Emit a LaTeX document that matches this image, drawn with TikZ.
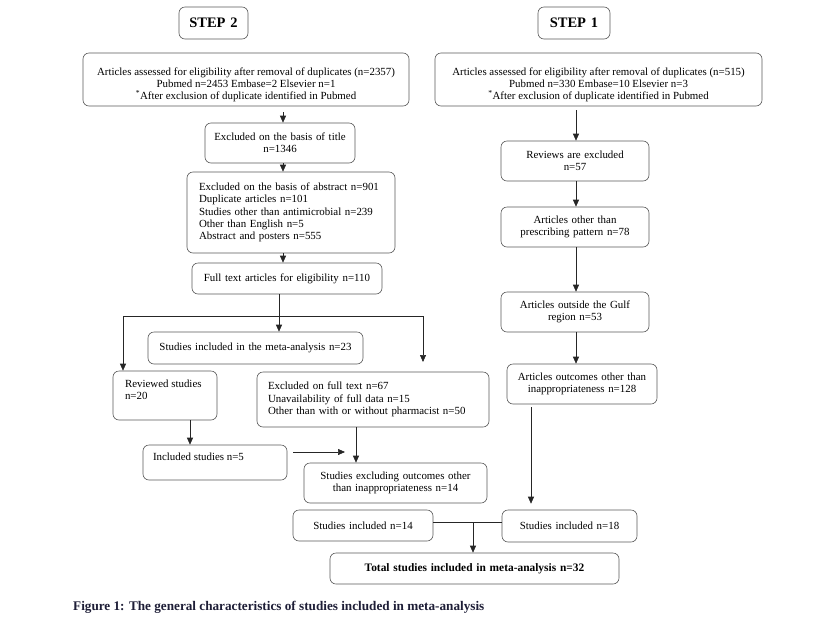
\documentclass[tikz,border=0pt]{standalone}
\usepackage{fontspec}
\setmainfont{Liberation Serif}
\usetikzlibrary{arrows.meta}
\newcommand{\fs}{\fontsize{10.9}{12.3}\selectfont}
\newcommand{\stepfont}{\fontsize{14.5}{16}\selectfont\bfseries}
\newcommand{\capfont}{\fontsize{13.2}{15}\selectfont\bfseries}
\definecolor{capc}{RGB}{30,30,55}
\begin{document}
\begin{tikzpicture}[x=1pt,y=-1pt,
  bx/.style={draw=black!65, line width=0.6pt, rounded corners=6pt, inner sep=0pt, font=\fs, align=center},
  lbx/.style={bx, align=left},
  arr/.style={-{Triangle[length=7pt,width=6pt]}, line width=0.6pt, draw=black!85},
  ln/.style={line width=0.6pt, draw=black!85}]
\path[fill=white] (0,0) rectangle (817,619);
% headers
\node[bx, text width=69pt, minimum height=32pt, font=\stepfont] (step2) at (213.5,23) {STEP 2};
\node[bx, text width=72pt, minimum height=32pt, font=\stepfont] (step1) at (574,23) {STEP 1};
% top boxes
\node[bx] (a2) at (246,79.5) {\parbox[c][53pt][t]{326pt}{\centering\rule{0pt}{22pt}Articles assessed for eligibility after removal of duplicates (n=2357)\\ Pubmed n=2453 Embase=2 Elsevier n=1\\ \textsuperscript{*}After exclusion of duplicate identified in Pubmed}};
\node[bx] (a1) at (598.5,79.5) {\parbox[c][53pt][t]{327pt}{\centering\rule{0pt}{22pt}Articles assessed for eligibility after removal of duplicates (n=515)\\ Pubmed n=330 Embase=10 Elsevier n=3\\ \textsuperscript{*}After exclusion of duplicate identified in Pubmed}};
% left column
\node[bx, text width=150pt, minimum height=40pt] (title) at (280,143) {Excluded on the basis of title\\ n=1346};
\node[lbx, text width=184pt, inner xsep=12pt, minimum height=81pt] (abstract) at (291,212.5) {Excluded on the basis of abstract n=901\\ Duplicate articles n=101\\ Studies other than antimicrobial n=239\\ Other than English n=5\\ Abstract and posters n=555};
\node[bx, text width=190pt, minimum height=31pt] (full) at (287,278.5) {Full text articles for eligibility n=110};
\node[bx, text width=215pt, minimum height=32pt] (meta) at (255.5,348) {Studies included in the meta-analysis n=23};
\node[lbx, inner xsep=12pt] (reviewed) at (165,395.5) {\parbox[c][49pt][t]{80pt}{\rule{0pt}{16pt}Reviewed studies\\ n=20}};
\node[lbx, text width=210pt, inner xsep=11pt, minimum height=55pt] (exclft) at (373,399.5) {Excluded on full text n=67\\ Unavailability of full data n=15\\ Other than with or without pharmacist n=50};
\node[lbx, inner xsep=10pt] (incl5) at (215,462.5) {\parbox[c][35pt][t]{124pt}{\rule{0pt}{15pt}Included studies n=5}};
\node[bx, text width=183pt, minimum height=40pt] (stexcl) at (395.5,483) {Studies excluding outcomes other\\ than inappropriateness n=14};
\node[bx, text width=140pt, minimum height=31pt] (si14) at (363,525.5) {Studies included n=14};
% right column
\node[bx, text width=148pt, minimum height=40pt] (reviews) at (575,161) {Reviews are excluded\\ n=57};
\node[bx, text width=148pt, minimum height=40pt] (other) at (575,227) {Articles other than\\ prescribing pattern n=78};
\node[bx, text width=148pt, minimum height=40pt] (gulf) at (575,312) {Articles outside the Gulf\\ region n=53};
\node[bx, text width=150pt, minimum height=40pt] (outcomes) at (582,384) {Articles outcomes other than\\ inappropriateness n=128};
\node[bx, text width=135pt, minimum height=32pt] (si18) at (569.5,526) {Studies included n=18};
% total
\node[bx, text width=289pt, minimum height=31pt, font=\fontsize{11.4}{13}\selectfont\bfseries] (total) at (474.5,568.5) {Total studies included in meta-analysis n=32};
% caption
\node[anchor=west, inner sep=0pt, font=\capfont, text=capc] (cap) at (73,607) {Figure 1: The general characteristics of studies included in meta-analysis};
% helper coordinates
\coordinate (cL) at (283,0);
\coordinate (split) at (279,316);
\coordinate (splL) at (123,316);
\coordinate (splR) at (423,316);
\coordinate (endR) at (423,362);
\coordinate (c190) at (190,0);
\coordinate (h1) at (293,452);
\coordinate (h2) at (345,452);
\coordinate (c356) at (356,0);
\coordinate (cR) at (576,0);
\coordinate (c531) at (531,0);
\coordinate (m) at (473,522);
% left connectors
\draw[arr] ([yshift=-6pt]a2.south -| cL) -- (title.north -| cL);
\draw[arr] (title.south -| cL) -- (abstract.north -| cL);
\draw[arr] (abstract.south -| cL) -- (full.north -| cL);
\draw[ln] (full.south -| split) -- (split);
\draw[ln] (splL) -- (splR);
\draw[arr] (split) -- (meta.north -| split);
\draw[arr] (splL) -- (reviewed.north -| splL);
\draw[arr] (splR) -- (endR);
\draw[arr] (reviewed.south -| c190) -- (incl5.north -| c190);
\draw[arr] (h1) -- (h2);
\draw[arr] (exclft.south -| c356) -- (stexcl.north -| c356);
% right connectors
\draw[arr] ([yshift=-4pt]a1.south -| cR) -- (reviews.north -| cR);
\draw[arr] (reviews.south -| cR) -- (other.north -| cR);
\draw[arr] (other.south -| cR) -- (gulf.north -| cR);
\draw[arr] (gulf.south -| cR) -- (outcomes.north -| cR);
\draw[arr, shorten >=6pt] ([yshift=-3pt]outcomes.south -| c531) -- (si18.north -| c531);
% bottom
\draw[ln] (si14.east |- m) -- (si18.west |- m);
\draw[arr] (m) -- (total.north -| m);
\end{tikzpicture}
\end{document}
